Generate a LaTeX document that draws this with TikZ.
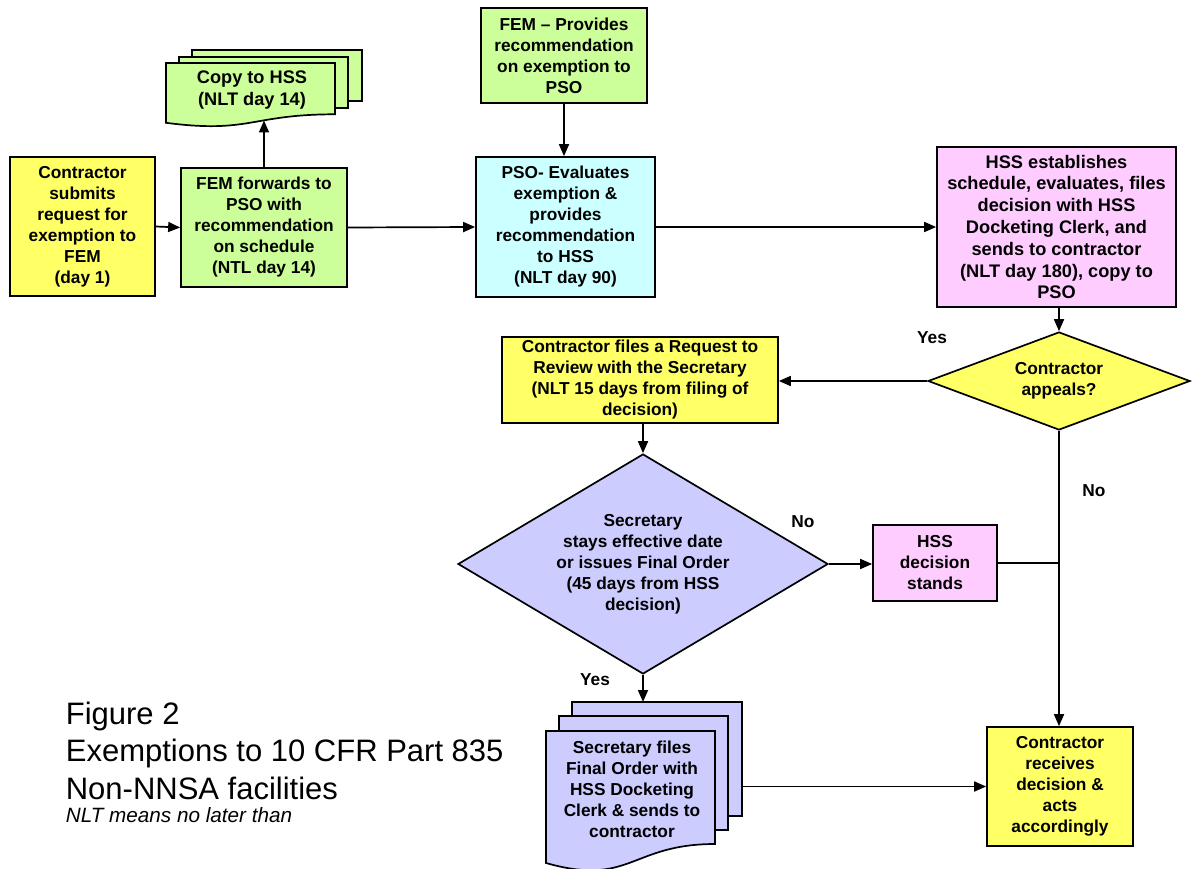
\documentclass[tikz,border=0pt]{standalone}
\usepackage{fontspec}
\setmainfont{Liberation Sans}
\usetikzlibrary{shapes.geometric,arrows.meta}
\definecolor{cyel}{HTML}{FFFF66}
\definecolor{cgrn}{HTML}{CCFF99}
\definecolor{ccyn}{HTML}{CCFFFF}
\definecolor{cpnk}{HTML}{FFCCFF}
\definecolor{clav}{HTML}{CCCCFF}
\newcommand\boxfont{\bfseries\fontsize{17.3}{21}\selectfont}
\newcommand\bigboxfont{\bfseries\fontsize{18.2}{21.8}\selectfont}
\begin{document}
\begin{tikzpicture}[x=1pt,y=-1pt,line width=1.7pt,
  box/.style={draw,rectangle,align=center,inner sep=0pt,font=\boxfont},
  dia/.style={draw,diamond,align=center,inner sep=0pt,font=\boxfont},
  lbl/.style={align=center,inner sep=0pt,font=\boxfont},
  arr/.style={-{Triangle[length=12pt,width=10pt]}},
  doc/.style={draw,line width=1.7pt}]
\path[use as bounding box] (0,0) rectangle (1193,869);

% nodes
\node[box,fill=cyel,minimum width=145,minimum height=139] (c1) at (82.5,226.5)
  {Contractor\\submits\\request for\\exemption to\\FEM\\(day 1)};
\node[box,fill=cgrn,minimum width=166,minimum height=119] (c2) at (264,227.5)
  {FEM forwards to\\PSO with\\recommendation\\on schedule\\(NTL day 14)};
\node[box,fill=cgrn,minimum width=166,minimum height=95] (fem) at (564,55.5)
  {FEM -- Provides\\recommendation\\on exemption to\\PSO};
\node[box,fill=ccyn,minimum width=179,minimum height=140] (pso) at (565.5,227)
  {PSO- Evaluates\\exemption \&\\provides\\recommendation\\to HSS\\(NLT day 90)};
\node[box,fill=cpnk,minimum width=239,minimum height=160,font=\bigboxfont] (hss) at (1056.5,227)
  {HSS establishes\\schedule, evaluates, files\\decision with HSS\\Docketing Clerk, and\\sends to contractor\\(NLT day 180), copy to\\PSO};
\node[dia,fill=cyel,minimum width=262,minimum height=98,aspect=2.67] (appeals) at (1059,381)
  {Contractor\\appeals?};
\node[box,fill=cyel,minimum width=276,minimum height=86] (request) at (640,380)
  {Contractor files a Request to\\Review with the Secretary\\(NLT 15 days from filing of\\decision)};
\node[dia,fill=clav,minimum width=370,minimum height=220,aspect=1.68] (sec) at (643,564)
  {Secretary\\stays effective date\\or issues Final Order\\(45 days from HSS\\decision)};
\node[box,fill=cpnk,minimum width=124,minimum height=76] (stands) at (935,563)
  {HSS\\decision\\stands};
\node[box,fill=cyel,minimum width=146,minimum height=119] (receive) at (1060,786.5)
  {Contractor\\receives\\decision \&\\acts\\accordingly};

% multi-document: copy to HSS
\filldraw[doc,fill=cgrn] (192,50) rectangle (362,101);
\filldraw[doc,fill=cgrn] (179,57) rectangle (348,108);
\filldraw[doc,fill=cgrn] (166,63) -- (335,63) -- (335,114.3)
  .. controls (250.5,114.3) and (250.5,133.8) .. (166,122.8) -- cycle;
\node[lbl,font=\bigboxfont] (copy) at (252,90) {Copy to HSS\\(NLT day 14)};

% multi-document: secretary files
\filldraw[doc,fill=clav] (572,702) rectangle (742,816);
\filldraw[doc,fill=clav] (559,716) rectangle (728,830);
\filldraw[doc,fill=clav] (546,731) -- (715,731) -- (715,844)
  .. controls (630.5,844) and (630.5,887) .. (546,863) -- cycle;
\node[lbl] (files) at (632,789)
  {Secretary files\\Final Order with\\HSS Docketing\\Clerk \& sends to\\contractor};

% connection points on the document shapes
\coordinate (copyin) at (264,120.5);
\coordinate (secin) at (643,702);
\coordinate (secout) at (742,786.5);

% connectors
\draw[arr] (c1.east) -- (c2.west);
\draw[arr] (c2.north) -- (copyin);
\draw[arr] (c2.east) -- (pso.west);
\draw[arr] (fem.south) -- (fem.south |- pso.north);
\draw[arr] (pso.east) -- (pso.east -| hss.west);
\draw[arr] (appeals.north |- hss.south) -- (appeals.north);
\draw[arr] (appeals.west) -- (appeals.west -| request.east);
\draw[arr] (sec.north |- request.south) -- (sec.north);
\draw[arr] (sec.east) -- (sec.east -| stands.west);
\coordinate (j) at (appeals.south |- stands.east);
\draw (stands.east) -- (j);
\draw[arr] (appeals.south) -- (appeals.south |- receive.north);
\draw[arr] (sec.south) -- (secin);
\draw[arr] (secout) -- (secout -| receive.west);

% labels
\node[lbl] (yes1) at (932,338) {Yes};
\node[lbl] (no1) at (803,522) {No};
\node[lbl] (no2) at (1094,491) {No};
\node[lbl] (yes2) at (595,680) {Yes};

% caption
\node[anchor=base west,inner sep=0pt,font=\fontsize{31}{37}\selectfont] (cap1) at (65,724) {Figure 2};
\node[anchor=base west,inner sep=0pt,font=\fontsize{31}{37}\selectfont] (cap2) at (65,761.5) {Exemptions to 10 CFR Part 835};
\node[anchor=base west,inner sep=0pt,font=\fontsize{31}{37}\selectfont] (cap3) at (65,799) {Non-NNSA facilities};
\node[anchor=base west,inner sep=0pt,font=\itshape\fontsize{20.7}{24}\selectfont] (cap4) at (65,822) {NLT means no later than};
\end{tikzpicture}
\end{document}
